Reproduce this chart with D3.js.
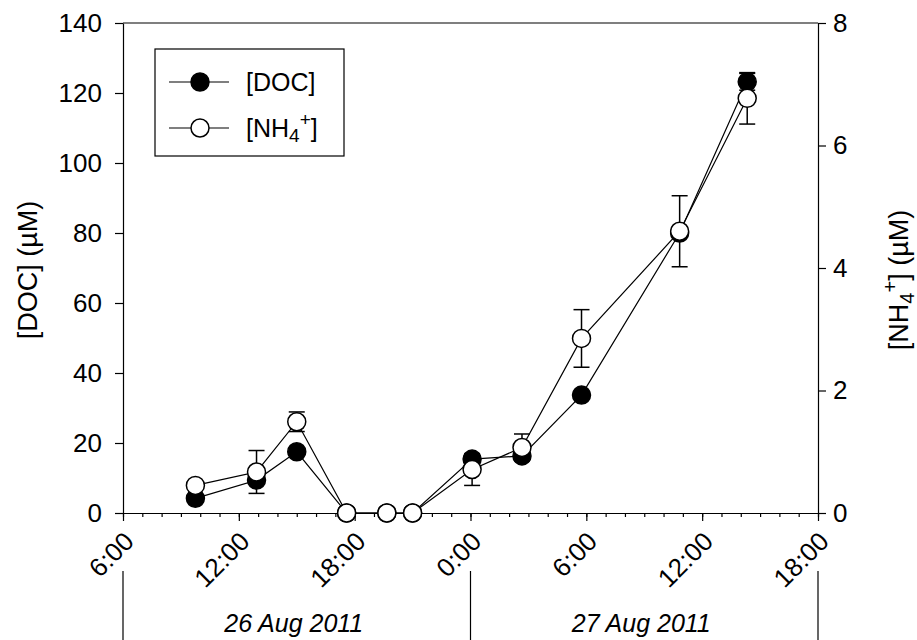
<!DOCTYPE html>
<html>
<head>
<meta charset="utf-8">
<script src="https://cdn.jsdelivr.net/npm/d3@7"></script>
<style>
  html, body { margin: 0; padding: 0; background: #fff; }
  svg { display: block; font-family: Arial, "Liberation Sans", sans-serif; }
</style>
</head>
<body>
<svg id="chart" width="917" height="640"></svg>
<script>
// Sampling times (local), 26–27 Aug 2011
const sampleTimes = [
  "2011-08-26T09:45", "2011-08-26T12:55", "2011-08-26T15:00",
  "2011-08-26T17:35", "2011-08-26T19:40", "2011-08-26T21:00",
  "2011-08-27T00:05", "2011-08-27T02:40", "2011-08-27T05:45",
  "2011-08-27T10:50", "2011-08-27T14:20"
];
// Dissolved organic carbon (µM) and its error
const docValues = [4.2, 9.4, 17.5, 0, 0, 0, 15.4, 16.3, 33.7, 80.0, 123.2];
const docErrors = [0, 0, 0, 0, 0, 0, 0, 0, 0, 0, 2.4];
// Ammonium (µM) and its error
const nh4Values = [0.45, 0.67, 1.49, 0, 0, 0, 0.71, 1.07, 2.85, 4.6, 6.77];
const nh4Errors = [0, 0.35, 0.16, 0, 0, 0, 0.26, 0.22, 0.47, 0.58, 0.42];
// Axis ticks
const docTicks = [0, 20, 40, 60, 80, 100, 120, 140];
const nh4Ticks = [0, 2, 4, 6, 8];
const dayLabels = ["26 Aug 2011", "27 Aug 2011"];
const dayBounds = ["2011-08-26T06:00", "2011-08-27T00:00", "2011-08-27T18:00"];

const parse = d3.timeParse("%Y-%m-%dT%H:%M");
const times = sampleTimes.map(parse);
const bounds = dayBounds.map(parse);

const svg = d3.select("#chart");
const m = { left: 123, right: 818, top: 23, bottom: 513 };

const x = d3.scaleTime().domain([bounds[0], bounds[2]]).range([m.left, m.right]);
const yL = d3.scaleLinear().domain([0, 140]).range([m.bottom, m.top]);
const yR = d3.scaleLinear().domain([0, 8]).range([m.bottom, m.top]);

const fontSize = 26;

// Frame top line
svg.append("line")
  .attr("x1", m.left).attr("x2", m.right)
  .attr("y1", m.top).attr("y2", m.top)
  .attr("stroke", "#000").attr("stroke-width", 1.2);

// Left axis
const gL = svg.append("g").attr("transform", `translate(${m.left},0)`)
  .call(d3.axisLeft(yL).tickValues(docTicks).tickSize(8).tickSizeOuter(0).tickPadding(13));
// Right axis
const gR = svg.append("g").attr("transform", `translate(${m.right},0)`)
  .call(d3.axisRight(yR).tickValues(nh4Ticks).tickSize(8).tickSizeOuter(0).tickPadding(7));

// Bottom axis: minor hourly ticks, major 6-hour ticks with labels
const gMinor = svg.append("g").attr("transform", `translate(0,${m.bottom})`)
  .call(d3.axisBottom(x).ticks(d3.timeHour.every(1)).tickSize(4).tickSizeOuter(0).tickFormat(""));
const fmt = d => `${d.getHours()}:00`;
const gB = svg.append("g").attr("transform", `translate(0,${m.bottom})`)
  .call(d3.axisBottom(x).ticks(d3.timeHour.every(6)).tickSize(8).tickSizeOuter(0).tickFormat(fmt));

[gL, gR, gMinor, gB].forEach(g => {
  g.selectAll("path, line").attr("stroke", "#000").attr("stroke-width", 1.2);
  g.selectAll("text").attr("font-size", fontSize).attr("fill", "#000")
    .attr("font-family", "Arial, 'Liberation Sans', sans-serif");
});
gB.selectAll(".tick text")
  .attr("text-anchor", "end")
  .attr("dy", null).attr("y", null)
  .attr("transform", "translate(12,30) rotate(-45)");

// Day separators and labels
svg.append("g").selectAll("line").data(bounds).join("line")
  .attr("x1", d => x(d)).attr("x2", d => x(d))
  .attr("y1", 571).attr("y2", 640)
  .attr("stroke", "#000").attr("stroke-width", 1.2);
svg.append("g").selectAll("text").data(dayLabels).join("text")
  .attr("x", (d, i) => (x(bounds[i]) + x(bounds[i + 1])) / 2 - 3)
  .attr("y", 632)
  .attr("text-anchor", "middle")
  .attr("font-size", 25).attr("font-style", "italic")
  .text(d => d);

// Axis titles
svg.append("text")
  .attr("transform", `translate(37,270) rotate(-90)`)
  .attr("text-anchor", "middle").attr("font-size", 27)
  .text("[DOC] (µM)");
const tR = svg.append("text")
  .attr("transform", `translate(908,280) rotate(-90)`)
  .attr("text-anchor", "middle").attr("font-size", 27);
tR.append("tspan").text("[NH");
tR.append("tspan").attr("font-size", 20).attr("dy", 6).text("4");
tR.append("tspan").attr("font-size", 20).attr("dy", -17).text("+");
tR.append("tspan").attr("dy", 11).text("] (µM)");

// Series
const docData = times.map((t, i) => ({ t, v: docValues[i], e: docErrors[i] }));
const nh4Data = times.map((t, i) => ({ t, v: nh4Values[i], e: nh4Errors[i] }));

function drawSeries(data, y, fill) {
  const g = svg.append("g");
  g.append("path").datum(data)
    .attr("fill", "none").attr("stroke", "#000").attr("stroke-width", 1.2)
    .attr("d", d3.line().x(d => x(d.t)).y(d => y(d.v)));
  const eb = g.selectAll(".eb").data(data.filter(d => d.e > 0)).join("g");
  eb.append("line")
    .attr("x1", d => x(d.t)).attr("x2", d => x(d.t))
    .attr("y1", d => y(d.v - d.e)).attr("y2", d => y(d.v + d.e))
    .attr("stroke", "#000").attr("stroke-width", 1.5);
  [-1, 1].forEach(s => {
    eb.append("line")
      .attr("x1", d => x(d.t) - 8).attr("x2", d => x(d.t) + 8)
      .attr("y1", d => y(d.v + s * d.e)).attr("y2", d => y(d.v + s * d.e))
      .attr("stroke", "#000").attr("stroke-width", 1.5);
  });
  g.selectAll("circle").data(data).join("circle")
    .attr("cx", d => x(d.t)).attr("cy", d => y(d.v)).attr("r", 9)
    .attr("fill", fill).attr("stroke", "#000").attr("stroke-width", 1.5);
}
drawSeries(docData, yL, "#000");
drawSeries(nh4Data, yR, "#fff");

// Legend
const lg = svg.append("g");
lg.append("rect").attr("x", 155).attr("y", 49).attr("width", 189).attr("height", 107)
  .attr("fill", "#fff").attr("stroke", "#000").attr("stroke-width", 1.2);
const entries = [{ fill: "#000", y: 82 }, { fill: "#fff", y: 128 }];
entries.forEach(e => {
  lg.append("line").attr("x1", 169).attr("x2", 229).attr("y1", e.y).attr("y2", e.y)
    .attr("stroke", "#000").attr("stroke-width", 1.2);
  lg.append("circle").attr("cx", 200).attr("cy", e.y).attr("r", 9)
    .attr("fill", e.fill).attr("stroke", "#000").attr("stroke-width", 1.5);
});
lg.append("text").attr("x", 246).attr("y", 82 + 9).attr("font-size", 25).text("[DOC]");
const l2 = lg.append("text").attr("x", 246).attr("y", 128 + 9).attr("font-size", 25);
l2.append("tspan").text("[NH");
l2.append("tspan").attr("font-size", 19).attr("dy", 5).text("4");
l2.append("tspan").attr("font-size", 19).attr("dy", -16).text("+");
l2.append("tspan").attr("dy", 11).text("]");
</script>
</body>
</html>
